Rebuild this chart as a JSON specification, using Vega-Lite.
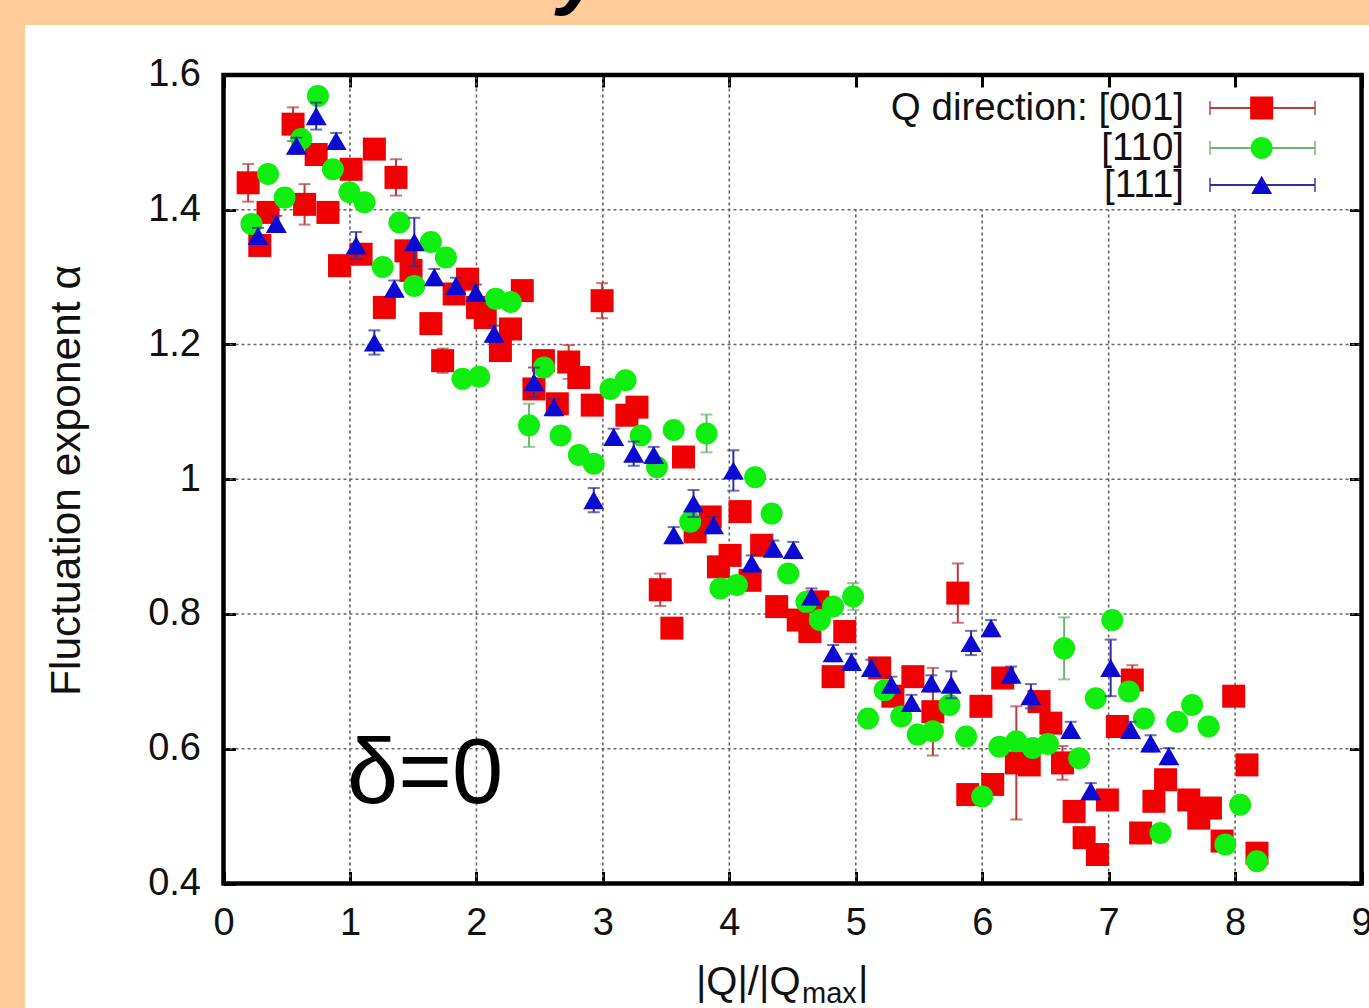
{
  "$schema": "https://vega.github.io/schema/vega-lite/v6.json",
  "width": 1344,
  "height": 983,
  "autosize": {"type": "none"},
  "padding": {"left": 25, "top": 25, "right": 0, "bottom": 0},
  "background": "#FFCC99",
  "config": {
    "view": {"fill": "white", "stroke": null},
    "font": "Liberation Sans",
    "axis": {"labelFont": "Liberation Sans", "titleFont": "Liberation Sans", "labelColor": "#111", "titleColor": "#111", "tickColor": "#000", "tickWidth": 3, "tickSize": -12, "grid": false, "domain": false, "labelFontSize": 38, "titleFontWeight": "normal"}
  },
  "datasets": {
    "pts": [
      {"dir": "[001]", "x": 0.195, "y": 1.440, "err": 0.028},
      {"dir": "[001]", "x": 0.287, "y": 1.347, "err": 0.012},
      {"dir": "[001]", "x": 0.352, "y": 1.396, "err": 0.012},
      {"dir": "[001]", "x": 0.55, "y": 1.527, "err": 0.025},
      {"dir": "[001]", "x": 0.641, "y": 1.408, "err": 0.030},
      {"dir": "[001]", "x": 0.733, "y": 1.482, "err": 0.012},
      {"dir": "[001]", "x": 0.826, "y": 1.396, "err": 0.012},
      {"dir": "[001]", "x": 0.917, "y": 1.317, "err": 0.012},
      {"dir": "[001]", "x": 1.009, "y": 1.460, "err": 0.012},
      {"dir": "[001]", "x": 1.088, "y": 1.334, "err": 0.012},
      {"dir": "[001]", "x": 1.193, "y": 1.490, "err": 0.012},
      {"dir": "[001]", "x": 1.272, "y": 1.255, "err": 0.015},
      {"dir": "[001]", "x": 1.364, "y": 1.448, "err": 0.027},
      {"dir": "[001]", "x": 1.443, "y": 1.339, "err": 0.012},
      {"dir": "[001]", "x": 1.483, "y": 1.310, "err": 0.012},
      {"dir": "[001]", "x": 1.640, "y": 1.231, "err": 0.015},
      {"dir": "[001]", "x": 1.733, "y": 1.176, "err": 0.018},
      {"dir": "[001]", "x": 1.824, "y": 1.275, "err": 0.012},
      {"dir": "[001]", "x": 1.930, "y": 1.297, "err": 0.012},
      {"dir": "[001]", "x": 2.009, "y": 1.255, "err": 0.012},
      {"dir": "[001]", "x": 2.07, "y": 1.240, "err": 0.012},
      {"dir": "[001]", "x": 2.19, "y": 1.191, "err": 0.012},
      {"dir": "[001]", "x": 2.27, "y": 1.223, "err": 0.012},
      {"dir": "[001]", "x": 2.363, "y": 1.280, "err": 0.012},
      {"dir": "[001]", "x": 2.455, "y": 1.134, "err": 0.012},
      {"dir": "[001]", "x": 2.53, "y": 1.176, "err": 0.015},
      {"dir": "[001]", "x": 2.64, "y": 1.112, "err": 0.012},
      {"dir": "[001]", "x": 2.73, "y": 1.174, "err": 0.025},
      {"dir": "[001]", "x": 2.81, "y": 1.151, "err": 0.012},
      {"dir": "[001]", "x": 2.916, "y": 1.110, "err": 0.012},
      {"dir": "[001]", "x": 2.994, "y": 1.265, "err": 0.026},
      {"dir": "[001]", "x": 3.19, "y": 1.095, "err": 0.012},
      {"dir": "[001]", "x": 3.27, "y": 1.107, "err": 0.012},
      {"dir": "[001]", "x": 3.454, "y": 0.836, "err": 0.024},
      {"dir": "[001]", "x": 3.546, "y": 0.779, "err": 0.012},
      {"dir": "[001]", "x": 3.638, "y": 1.033, "err": 0.012},
      {"dir": "[001]", "x": 3.73, "y": 0.922, "err": 0.012},
      {"dir": "[001]", "x": 3.849, "y": 0.944, "err": 0.012},
      {"dir": "[001]", "x": 3.914, "y": 0.870, "err": 0.012},
      {"dir": "[001]", "x": 4.006, "y": 0.887, "err": 0.012},
      {"dir": "[001]", "x": 4.085, "y": 0.952, "err": 0.012},
      {"dir": "[001]", "x": 4.164, "y": 0.850, "err": 0.012},
      {"dir": "[001]", "x": 4.256, "y": 0.902, "err": 0.012},
      {"dir": "[001]", "x": 4.375, "y": 0.811, "err": 0.012},
      {"dir": "[001]", "x": 4.545, "y": 0.791, "err": 0.012},
      {"dir": "[001]", "x": 4.637, "y": 0.774, "err": 0.012},
      {"dir": "[001]", "x": 4.70, "y": 0.818, "err": 0.012},
      {"dir": "[001]", "x": 4.821, "y": 0.707, "err": 0.012},
      {"dir": "[001]", "x": 4.913, "y": 0.774, "err": 0.015},
      {"dir": "[001]", "x": 5.189, "y": 0.720, "err": 0.012},
      {"dir": "[001]", "x": 5.294, "y": 0.678, "err": 0.012},
      {"dir": "[001]", "x": 5.452, "y": 0.707, "err": 0.012},
      {"dir": "[001]", "x": 5.61, "y": 0.655, "err": 0.065},
      {"dir": "[001]", "x": 5.807, "y": 0.831, "err": 0.044},
      {"dir": "[001]", "x": 5.886, "y": 0.532, "err": 0.012},
      {"dir": "[001]", "x": 5.99, "y": 0.663, "err": 0.012},
      {"dir": "[001]", "x": 6.083, "y": 0.547, "err": 0.012},
      {"dir": "[001]", "x": 6.162, "y": 0.705, "err": 0.012},
      {"dir": "[001]", "x": 6.27, "y": 0.579, "err": 0.084},
      {"dir": "[001]", "x": 6.372, "y": 0.576, "err": 0.012},
      {"dir": "[001]", "x": 6.45, "y": 0.670, "err": 0.012},
      {"dir": "[001]", "x": 6.543, "y": 0.638, "err": 0.012},
      {"dir": "[001]", "x": 6.635, "y": 0.579, "err": 0.025},
      {"dir": "[001]", "x": 6.727, "y": 0.507, "err": 0.012},
      {"dir": "[001]", "x": 6.806, "y": 0.468, "err": 0.012},
      {"dir": "[001]", "x": 6.911, "y": 0.443, "err": 0.012},
      {"dir": "[001]", "x": 6.99, "y": 0.524, "err": 0.012},
      {"dir": "[001]", "x": 7.069, "y": 0.633, "err": 0.012},
      {"dir": "[001]", "x": 7.187, "y": 0.702, "err": 0.022},
      {"dir": "[001]", "x": 7.253, "y": 0.475, "err": 0.012},
      {"dir": "[001]", "x": 7.358, "y": 0.522, "err": 0.012},
      {"dir": "[001]", "x": 7.45, "y": 0.554, "err": 0.012},
      {"dir": "[001]", "x": 7.634, "y": 0.524, "err": 0.012},
      {"dir": "[001]", "x": 7.713, "y": 0.497, "err": 0.012},
      {"dir": "[001]", "x": 7.805, "y": 0.512, "err": 0.012},
      {"dir": "[001]", "x": 7.897, "y": 0.463, "err": 0.012},
      {"dir": "[001]", "x": 7.989, "y": 0.678, "err": 0.012},
      {"dir": "[001]", "x": 8.094, "y": 0.576, "err": 0.012},
      {"dir": "[001]", "x": 8.173, "y": 0.445, "err": 0.012},
      {"dir": "[110]", "x": 0.221, "y": 1.379, "err": 0.012},
      {"dir": "[110]", "x": 0.352, "y": 1.453, "err": 0.012},
      {"dir": "[110]", "x": 0.483, "y": 1.418, "err": 0.012},
      {"dir": "[110]", "x": 0.615, "y": 1.505, "err": 0.012},
      {"dir": "[110]", "x": 0.747, "y": 1.569, "err": 0.012},
      {"dir": "[110]", "x": 0.865, "y": 1.460, "err": 0.012},
      {"dir": "[110]", "x": 0.996, "y": 1.426, "err": 0.012},
      {"dir": "[110]", "x": 1.115, "y": 1.411, "err": 0.012},
      {"dir": "[110]", "x": 1.259, "y": 1.315, "err": 0.012},
      {"dir": "[110]", "x": 1.391, "y": 1.381, "err": 0.012},
      {"dir": "[110]", "x": 1.509, "y": 1.287, "err": 0.012},
      {"dir": "[110]", "x": 1.640, "y": 1.352, "err": 0.012},
      {"dir": "[110]", "x": 1.759, "y": 1.329, "err": 0.012},
      {"dir": "[110]", "x": 1.890, "y": 1.149, "err": 0.012},
      {"dir": "[110]", "x": 2.022, "y": 1.152, "err": 0.012},
      {"dir": "[110]", "x": 2.153, "y": 1.268, "err": 0.012},
      {"dir": "[110]", "x": 2.271, "y": 1.263, "err": 0.012},
      {"dir": "[110]", "x": 2.416, "y": 1.080, "err": 0.032},
      {"dir": "[110]", "x": 2.534, "y": 1.166, "err": 0.012},
      {"dir": "[110]", "x": 2.666, "y": 1.065, "err": 0.012},
      {"dir": "[110]", "x": 2.81, "y": 1.036, "err": 0.012},
      {"dir": "[110]", "x": 2.928, "y": 1.023, "err": 0.012},
      {"dir": "[110]", "x": 3.06, "y": 1.134, "err": 0.012},
      {"dir": "[110]", "x": 3.18, "y": 1.147, "err": 0.012},
      {"dir": "[110]", "x": 3.30, "y": 1.065, "err": 0.012},
      {"dir": "[110]", "x": 3.428, "y": 1.018, "err": 0.012},
      {"dir": "[110]", "x": 3.56, "y": 1.073, "err": 0.012},
      {"dir": "[110]", "x": 3.691, "y": 0.937, "err": 0.012},
      {"dir": "[110]", "x": 3.82, "y": 1.068, "err": 0.028},
      {"dir": "[110]", "x": 3.93, "y": 0.838, "err": 0.012},
      {"dir": "[110]", "x": 4.06, "y": 0.843, "err": 0.012},
      {"dir": "[110]", "x": 4.204, "y": 1.003, "err": 0.012},
      {"dir": "[110]", "x": 4.335, "y": 0.949, "err": 0.012},
      {"dir": "[110]", "x": 4.466, "y": 0.860, "err": 0.012},
      {"dir": "[110]", "x": 4.61, "y": 0.818, "err": 0.012},
      {"dir": "[110]", "x": 4.716, "y": 0.791, "err": 0.012},
      {"dir": "[110]", "x": 4.821, "y": 0.811, "err": 0.012},
      {"dir": "[110]", "x": 4.979, "y": 0.826, "err": 0.02},
      {"dir": "[110]", "x": 5.097, "y": 0.645, "err": 0.012},
      {"dir": "[110]", "x": 5.229, "y": 0.687, "err": 0.012},
      {"dir": "[110]", "x": 5.36, "y": 0.648, "err": 0.012},
      {"dir": "[110]", "x": 5.49, "y": 0.621, "err": 0.012},
      {"dir": "[110]", "x": 5.61, "y": 0.626, "err": 0.012},
      {"dir": "[110]", "x": 5.741, "y": 0.665, "err": 0.012},
      {"dir": "[110]", "x": 5.873, "y": 0.618, "err": 0.012},
      {"dir": "[110]", "x": 6.0, "y": 0.529, "err": 0.012},
      {"dir": "[110]", "x": 6.136, "y": 0.603, "err": 0.012},
      {"dir": "[110]", "x": 6.27, "y": 0.611, "err": 0.012},
      {"dir": "[110]", "x": 6.40, "y": 0.601, "err": 0.012},
      {"dir": "[110]", "x": 6.52, "y": 0.607, "err": 0.012},
      {"dir": "[110]", "x": 6.648, "y": 0.749, "err": 0.046},
      {"dir": "[110]", "x": 6.767, "y": 0.586, "err": 0.012},
      {"dir": "[110]", "x": 6.898, "y": 0.675, "err": 0.012},
      {"dir": "[110]", "x": 7.029, "y": 0.791, "err": 0.012},
      {"dir": "[110]", "x": 7.16, "y": 0.685, "err": 0.012},
      {"dir": "[110]", "x": 7.279, "y": 0.645, "err": 0.012},
      {"dir": "[110]", "x": 7.41, "y": 0.475, "err": 0.012},
      {"dir": "[110]", "x": 7.542, "y": 0.640, "err": 0.012},
      {"dir": "[110]", "x": 7.66, "y": 0.665, "err": 0.012},
      {"dir": "[110]", "x": 7.79, "y": 0.633, "err": 0.012},
      {"dir": "[110]", "x": 7.923, "y": 0.458, "err": 0.012},
      {"dir": "[110]", "x": 8.04, "y": 0.517, "err": 0.012},
      {"dir": "[110]", "x": 8.173, "y": 0.433, "err": 0.012},
      {"dir": "[111]", "x": 0.273, "y": 1.361, "err": 0.012},
      {"dir": "[111]", "x": 0.418, "y": 1.379, "err": 0.012},
      {"dir": "[111]", "x": 0.576, "y": 1.495, "err": 0.012},
      {"dir": "[111]", "x": 0.733, "y": 1.539, "err": 0.02},
      {"dir": "[111]", "x": 0.891, "y": 1.502, "err": 0.012},
      {"dir": "[111]", "x": 1.049, "y": 1.347, "err": 0.02},
      {"dir": "[111]", "x": 1.193, "y": 1.203, "err": 0.018},
      {"dir": "[111]", "x": 1.351, "y": 1.283, "err": 0.012},
      {"dir": "[111]", "x": 1.509, "y": 1.352, "err": 0.036},
      {"dir": "[111]", "x": 1.667, "y": 1.300, "err": 0.012},
      {"dir": "[111]", "x": 1.838, "y": 1.287, "err": 0.012},
      {"dir": "[111]", "x": 1.995, "y": 1.277, "err": 0.012},
      {"dir": "[111]", "x": 2.14, "y": 1.216, "err": 0.012},
      {"dir": "[111]", "x": 2.455, "y": 1.144, "err": 0.022},
      {"dir": "[111]", "x": 2.613, "y": 1.107, "err": 0.012},
      {"dir": "[111]", "x": 2.928, "y": 0.969, "err": 0.018},
      {"dir": "[111]", "x": 3.086, "y": 1.063, "err": 0.012},
      {"dir": "[111]", "x": 3.244, "y": 1.038, "err": 0.018},
      {"dir": "[111]", "x": 3.402, "y": 1.036, "err": 0.012},
      {"dir": "[111]", "x": 3.56, "y": 0.917, "err": 0.012},
      {"dir": "[111]", "x": 3.717, "y": 0.964, "err": 0.02},
      {"dir": "[111]", "x": 3.875, "y": 0.932, "err": 0.012},
      {"dir": "[111]", "x": 4.032, "y": 1.013, "err": 0.03},
      {"dir": "[111]", "x": 4.177, "y": 0.875, "err": 0.012},
      {"dir": "[111]", "x": 4.348, "y": 0.897, "err": 0.012},
      {"dir": "[111]", "x": 4.506, "y": 0.895, "err": 0.012},
      {"dir": "[111]", "x": 4.65, "y": 0.826, "err": 0.012},
      {"dir": "[111]", "x": 4.821, "y": 0.742, "err": 0.012},
      {"dir": "[111]", "x": 4.966, "y": 0.729, "err": 0.012},
      {"dir": "[111]", "x": 5.124, "y": 0.720, "err": 0.012},
      {"dir": "[111]", "x": 5.282, "y": 0.695, "err": 0.012},
      {"dir": "[111]", "x": 5.44, "y": 0.668, "err": 0.012},
      {"dir": "[111]", "x": 5.597, "y": 0.697, "err": 0.012},
      {"dir": "[111]", "x": 5.755, "y": 0.695, "err": 0.02},
      {"dir": "[111]", "x": 5.912, "y": 0.757, "err": 0.018},
      {"dir": "[111]", "x": 6.07, "y": 0.779, "err": 0.012},
      {"dir": "[111]", "x": 6.228, "y": 0.710, "err": 0.012},
      {"dir": "[111]", "x": 6.385, "y": 0.678, "err": 0.018},
      {"dir": "[111]", "x": 6.70, "y": 0.628, "err": 0.012},
      {"dir": "[111]", "x": 6.859, "y": 0.537, "err": 0.012},
      {"dir": "[111]", "x": 7.016, "y": 0.720, "err": 0.042},
      {"dir": "[111]", "x": 7.174, "y": 0.628, "err": 0.012},
      {"dir": "[111]", "x": 7.332, "y": 0.608, "err": 0.012},
      {"dir": "[111]", "x": 7.476, "y": 0.589, "err": 0.012}
    ]
  },
  "data": {"name": "pts"},
  "resolve": {"axis": {"x": "independent", "y": "independent"}},
  "layer": [
    {
      "data": {"values": [{"v": 1}, {"v": 2}, {"v": 3}, {"v": 4}]},
      "mark": {"type": "rule", "stroke": "#666", "strokeWidth": 1.6, "strokeDash": [3, 3]},
      "encoding": {
        "x": {"field": "v", "type": "quantitative", "scale": {"domain": [-1.5698, 9.0589], "nice": false, "zero": false}, "axis": null},
        "y": {"datum": 0.4, "type": "quantitative", "scale": {"domain": [0.21522, 1.6742], "nice": false, "zero": false}, "axis": null},
        "y2": {"datum": 1.6}
      }
    },
    {
      "data": {"values": [{"v": 5}, {"v": 6}, {"v": 7}, {"v": 8}]},
      "mark": {"type": "rule", "stroke": "#666", "strokeWidth": 1.6, "strokeDash": [3, 3]},
      "encoding": {
        "x": {"field": "v", "type": "quantitative", "scale": {"domain": [-1.5698, 9.0589], "nice": false, "zero": false}, "axis": null},
        "y": {"datum": 0.4, "type": "quantitative", "scale": {"domain": [0.21522, 1.6742], "nice": false, "zero": false}, "axis": null},
        "y2": {"datum": 1.4}
      }
    },
    {
      "data": {"values": [{"v": 0.6}, {"v": 0.8}, {"v": 1.0}, {"v": 1.2}, {"v": 1.4}]},
      "mark": {"type": "rule", "stroke": "#666", "strokeWidth": 1.6, "strokeDash": [3, 3]},
      "encoding": {
        "y": {"field": "v", "type": "quantitative", "scale": {"domain": [0.21522, 1.6742], "nice": false, "zero": false}, "axis": null},
        "x": {"datum": 0, "type": "quantitative", "scale": {"domain": [-1.5698, 9.0589], "nice": false, "zero": false}, "axis": null},
        "x2": {"datum": 9}
      }
    },
    {
      "data": {"values": [{"frame": "border"}]},
      "mark": {"type": "rect", "filled": false, "stroke": "#000", "strokeWidth": 4.5},
      "encoding": {
        "x": {"datum": 0, "type": "quantitative", "scale": {"domain": [-1.5698, 9.0589], "nice": false, "zero": false}, "axis": null},
        "x2": {"datum": 9},
        "y": {"datum": 0.4, "type": "quantitative", "scale": {"domain": [0.21522, 1.6742], "nice": false, "zero": false}, "axis": null},
        "y2": {"datum": 1.6}
      }
    },
    {
      "transform": [{"filter": "datum.dir == '[001]'"}],
      "mark": {"type": "errorbar", "ticks": true, "color": "#b83c3c", "thickness": 2, "size": 12},
      "encoding": {
        "x": {"field": "x", "type": "quantitative", "scale": {"domain": [-1.5698, 9.0589], "nice": false, "zero": false}, "axis": null},
        "y": {"field": "y", "type": "quantitative", "scale": {"domain": [0.21522, 1.6742], "nice": false, "zero": false}, "axis": null},
        "yError": {"field": "err"}
      }
    },
    {
      "transform": [{"filter": "datum.dir == '[001]'"}],
      "mark": {"type": "point", "shape": "square", "filled": true, "size": 529, "color": "#f00000", "opacity": 1, "strokeWidth": 0},
      "encoding": {
        "x": {"field": "x", "type": "quantitative", "scale": {"domain": [-1.5698, 9.0589], "nice": false, "zero": false},
          "axis": {"orient": "bottom", "offset": -124.5, "values": [0, 1, 2, 3, 4, 5, 6, 7, 8, 9], "format": "d", "title": null, "labelPadding": 33, "labelFlush": false, "labelOverlap": false}},
        "y": {"field": "y", "type": "quantitative", "scale": {"domain": [0.21522, 1.6742], "nice": false, "zero": false},
          "axis": {"orient": "left", "offset": -198.5, "values": [0.4, 0.6, 0.8, 1.0, 1.2, 1.4, 1.6], "format": "~g", "labelPadding": 35, "labelFlush": false, "labelOverlap": false, "labelBaseline": "middle",
            "title": "Fluctuation exponent α", "titleFontSize": 42.5, "titleX": -157.5, "titleY": 455, "titleAngle": 270, "titleBaseline": "middle", "titleAlign": "center"}}
      }
    },
    {
      "transform": [{"filter": "datum.dir == '[110]'"}],
      "mark": {"type": "errorbar", "ticks": true, "color": "#6fb46f", "thickness": 2, "size": 12},
      "encoding": {
        "x": {"field": "x", "type": "quantitative", "scale": {"domain": [-1.5698, 9.0589], "nice": false, "zero": false}, "axis": null},
        "y": {"field": "y", "type": "quantitative", "scale": {"domain": [0.21522, 1.6742], "nice": false, "zero": false}, "axis": null},
        "yError": {"field": "err"}
      }
    },
    {
      "transform": [{"filter": "datum.dir == '[110]'"}],
      "mark": {"type": "point", "shape": "circle", "filled": true, "size": 484, "color": "#10ee10", "opacity": 1, "strokeWidth": 0},
      "encoding": {
        "x": {"field": "x", "type": "quantitative", "scale": {"domain": [-1.5698, 9.0589], "nice": false, "zero": false},
          "axis": {"orient": "top", "offset": -50, "values": [0, 1, 2, 3, 4, 5, 6, 7, 8, 9], "labels": false, "title": null}},
        "y": {"field": "y", "type": "quantitative", "scale": {"domain": [0.21522, 1.6742], "nice": false, "zero": false},
          "axis": {"orient": "right", "offset": -7.6, "values": [0.4, 0.6, 0.8, 1.0, 1.2, 1.4, 1.6], "labels": false, "title": null}}
      }
    },
    {
      "transform": [{"filter": "datum.dir == '[111]'"}],
      "mark": {"type": "errorbar", "ticks": true, "color": "#30309a", "thickness": 2, "size": 12},
      "encoding": {
        "x": {"field": "x", "type": "quantitative", "scale": {"domain": [-1.5698, 9.0589], "nice": false, "zero": false}, "axis": null},
        "y": {"field": "y", "type": "quantitative", "scale": {"domain": [0.21522, 1.6742], "nice": false, "zero": false}, "axis": null},
        "yError": {"field": "err"}
      }
    },
    {
      "transform": [{"filter": "datum.dir == '[111]'"}],
      "mark": {"type": "point", "shape": "triangle-up", "filled": true, "size": 441, "color": "#0a0ad2", "opacity": 1, "strokeWidth": 0},
      "encoding": {
        "x": {"field": "x", "type": "quantitative", "scale": {"domain": [-1.5698, 9.0589], "nice": false, "zero": false}, "axis": null},
        "y": {"field": "y", "type": "quantitative", "scale": {"domain": [0.21522, 1.6742], "nice": false, "zero": false}, "axis": null}
      }
    },
    {
      "data": {"values": [{"label": "Q direction: [001]"}]},
      "mark": {"type": "text", "align": "right", "baseline": "middle", "fontSize": 38.5, "color": "#111"},
      "encoding": {
        "text": {"field": "label"},
        "x": {"datum": 7.596, "type": "quantitative", "scale": {"domain": [-1.5698, 9.0589], "nice": false, "zero": false}, "axis": null},
        "y": {"datum": 1.551, "type": "quantitative", "scale": {"domain": [0.21522, 1.6742], "nice": false, "zero": false}, "axis": null}
      }
    },
    {
      "data": {"values": [{"label": "[110]"}]},
      "mark": {"type": "text", "align": "right", "baseline": "middle", "fontSize": 38.5, "color": "#111"},
      "encoding": {
        "text": {"field": "label"},
        "x": {"datum": 7.596, "type": "quantitative", "scale": {"domain": [-1.5698, 9.0589], "nice": false, "zero": false}, "axis": null},
        "y": {"datum": 1.4917, "type": "quantitative", "scale": {"domain": [0.21522, 1.6742], "nice": false, "zero": false}, "axis": null}
      }
    },
    {
      "data": {"values": [{"label": "[111]"}]},
      "mark": {"type": "text", "align": "right", "baseline": "middle", "fontSize": 38.5, "color": "#111"},
      "encoding": {
        "text": {"field": "label"},
        "x": {"datum": 7.596, "type": "quantitative", "scale": {"domain": [-1.5698, 9.0589], "nice": false, "zero": false}, "axis": null},
        "y": {"datum": 1.4368, "type": "quantitative", "scale": {"domain": [0.21522, 1.6742], "nice": false, "zero": false}, "axis": null}
      }
    },
    {
      "data": {"values": [{"dir": "[001]"}]},
      "mark": {"type": "rule", "stroke": "#b83c3c", "strokeWidth": 2},
      "encoding": {
        "x": {"datum": 7.8015, "type": "quantitative", "scale": {"domain": [-1.5698, 9.0589], "nice": false, "zero": false}, "axis": null},
        "x2": {"datum": 8.632},
        "y": {"datum": 1.551, "type": "quantitative", "scale": {"domain": [0.21522, 1.6742], "nice": false, "zero": false}, "axis": null}
      }
    },
    {
      "data": {"values": [{"dir": "[001]", "end": 7.8015}, {"dir": "[001]", "end": 8.632}]},
      "mark": {"type": "tick", "orient": "vertical", "color": "#b83c3c", "thickness": 2, "size": 14},
      "encoding": {
        "x": {"field": "end", "type": "quantitative", "scale": {"domain": [-1.5698, 9.0589], "nice": false, "zero": false}, "axis": null},
        "y": {"datum": 1.551, "type": "quantitative", "scale": {"domain": [0.21522, 1.6742], "nice": false, "zero": false}, "axis": null}
      }
    },
    {
      "data": {"values": [{"dir": "[001]"}]},
      "mark": {"type": "point", "shape": "square", "filled": true, "size": 529, "color": "#f00000", "opacity": 1, "strokeWidth": 0},
      "encoding": {
        "x": {"datum": 8.21, "type": "quantitative", "scale": {"domain": [-1.5698, 9.0589], "nice": false, "zero": false}, "axis": null},
        "y": {"datum": 1.551, "type": "quantitative", "scale": {"domain": [0.21522, 1.6742], "nice": false, "zero": false}, "axis": null}
      }
    },
    {
      "data": {"values": [{"dir": "[110]"}]},
      "mark": {"type": "rule", "stroke": "#6fb46f", "strokeWidth": 2},
      "encoding": {
        "x": {"datum": 7.8015, "type": "quantitative", "scale": {"domain": [-1.5698, 9.0589], "nice": false, "zero": false}, "axis": null},
        "x2": {"datum": 8.632},
        "y": {"datum": 1.4917, "type": "quantitative", "scale": {"domain": [0.21522, 1.6742], "nice": false, "zero": false}, "axis": null}
      }
    },
    {
      "data": {"values": [{"dir": "[110]", "end": 7.8015}, {"dir": "[110]", "end": 8.632}]},
      "mark": {"type": "tick", "orient": "vertical", "color": "#6fb46f", "thickness": 2, "size": 14},
      "encoding": {
        "x": {"field": "end", "type": "quantitative", "scale": {"domain": [-1.5698, 9.0589], "nice": false, "zero": false}, "axis": null},
        "y": {"datum": 1.4917, "type": "quantitative", "scale": {"domain": [0.21522, 1.6742], "nice": false, "zero": false}, "axis": null}
      }
    },
    {
      "data": {"values": [{"dir": "[110]"}]},
      "mark": {"type": "point", "shape": "circle", "filled": true, "size": 484, "color": "#10ee10", "opacity": 1, "strokeWidth": 0},
      "encoding": {
        "x": {"datum": 8.21, "type": "quantitative", "scale": {"domain": [-1.5698, 9.0589], "nice": false, "zero": false}, "axis": null},
        "y": {"datum": 1.4917, "type": "quantitative", "scale": {"domain": [0.21522, 1.6742], "nice": false, "zero": false}, "axis": null}
      }
    },
    {
      "data": {"values": [{"dir": "[111]"}]},
      "mark": {"type": "rule", "stroke": "#30309a", "strokeWidth": 2},
      "encoding": {
        "x": {"datum": 7.8015, "type": "quantitative", "scale": {"domain": [-1.5698, 9.0589], "nice": false, "zero": false}, "axis": null},
        "x2": {"datum": 8.632},
        "y": {"datum": 1.4368, "type": "quantitative", "scale": {"domain": [0.21522, 1.6742], "nice": false, "zero": false}, "axis": null}
      }
    },
    {
      "data": {"values": [{"dir": "[111]", "end": 7.8015}, {"dir": "[111]", "end": 8.632}]},
      "mark": {"type": "tick", "orient": "vertical", "color": "#30309a", "thickness": 2, "size": 14},
      "encoding": {
        "x": {"field": "end", "type": "quantitative", "scale": {"domain": [-1.5698, 9.0589], "nice": false, "zero": false}, "axis": null},
        "y": {"datum": 1.4368, "type": "quantitative", "scale": {"domain": [0.21522, 1.6742], "nice": false, "zero": false}, "axis": null}
      }
    },
    {
      "data": {"values": [{"dir": "[111]"}]},
      "mark": {"type": "point", "shape": "triangle-up", "filled": true, "size": 441, "color": "#0a0ad2", "opacity": 1, "strokeWidth": 0},
      "encoding": {
        "x": {"datum": 8.21, "type": "quantitative", "scale": {"domain": [-1.5698, 9.0589], "nice": false, "zero": false}, "axis": null},
        "y": {"datum": 1.4368, "type": "quantitative", "scale": {"domain": [0.21522, 1.6742], "nice": false, "zero": false}, "axis": null}
      }
    },
    {
      "data": {"values": [{"label": "δ=0"}]},
      "mark": {"type": "text", "align": "center", "baseline": "alphabetic", "fontSize": 92, "color": "#000"},
      "encoding": {
        "text": {"field": "label"},
        "x": {"datum": 1.594, "type": "quantitative", "scale": {"domain": [-1.5698, 9.0589], "nice": false, "zero": false}, "axis": null},
        "y": {"datum": 0.5195, "type": "quantitative", "scale": {"domain": [0.21522, 1.6742], "nice": false, "zero": false}, "axis": null}
      }
    },
    {
      "data": {"values": [{"label": "|Q|/|Q"}]},
      "mark": {"type": "text", "align": "right", "baseline": "alphabetic", "fontSize": 40, "color": "#111"},
      "encoding": {
        "text": {"field": "label"},
        "x": {"datum": 4.563, "type": "quantitative", "scale": {"domain": [-1.5698, 9.0589], "nice": false, "zero": false}, "axis": null},
        "y": {"datum": 0.2345, "type": "quantitative", "scale": {"domain": [0.21522, 1.6742], "nice": false, "zero": false}, "axis": null}
      }
    },
    {
      "data": {"values": [{"label": "max"}]},
      "mark": {"type": "text", "align": "left", "baseline": "alphabetic", "fontSize": 29, "color": "#111"},
      "encoding": {
        "text": {"field": "label"},
        "x": {"datum": 4.575, "type": "quantitative", "scale": {"domain": [-1.5698, 9.0589], "nice": false, "zero": false}, "axis": null},
        "y": {"datum": 0.2226, "type": "quantitative", "scale": {"domain": [0.21522, 1.6742], "nice": false, "zero": false}, "axis": null}
      }
    },
    {
      "data": {"values": [{"label": "|"}]},
      "mark": {"type": "text", "align": "left", "baseline": "alphabetic", "fontSize": 40, "color": "#111"},
      "encoding": {
        "text": {"field": "label"},
        "x": {"datum": 5.018, "type": "quantitative", "scale": {"domain": [-1.5698, 9.0589], "nice": false, "zero": false}, "axis": null},
        "y": {"datum": 0.2345, "type": "quantitative", "scale": {"domain": [0.21522, 1.6742], "nice": false, "zero": false}, "axis": null}
      }
    },
    {
      "data": {"values": [{"label": "y"}]},
      "mark": {"type": "text", "align": "center", "baseline": "alphabetic", "fontSize": 80, "fontWeight": "bold", "fontStyle": "italic", "color": "#000"},
      "encoding": {
        "text": {"field": "label"},
        "x": {"datum": 2.8193, "type": "quantitative", "scale": {"domain": [-1.5698, 9.0589], "nice": false, "zero": false}, "axis": null},
        "y": {"datum": 1.7128, "type": "quantitative", "scale": {"domain": [0.21522, 1.6742], "nice": false, "zero": false}, "axis": null}
      }
    }
  ]
}
